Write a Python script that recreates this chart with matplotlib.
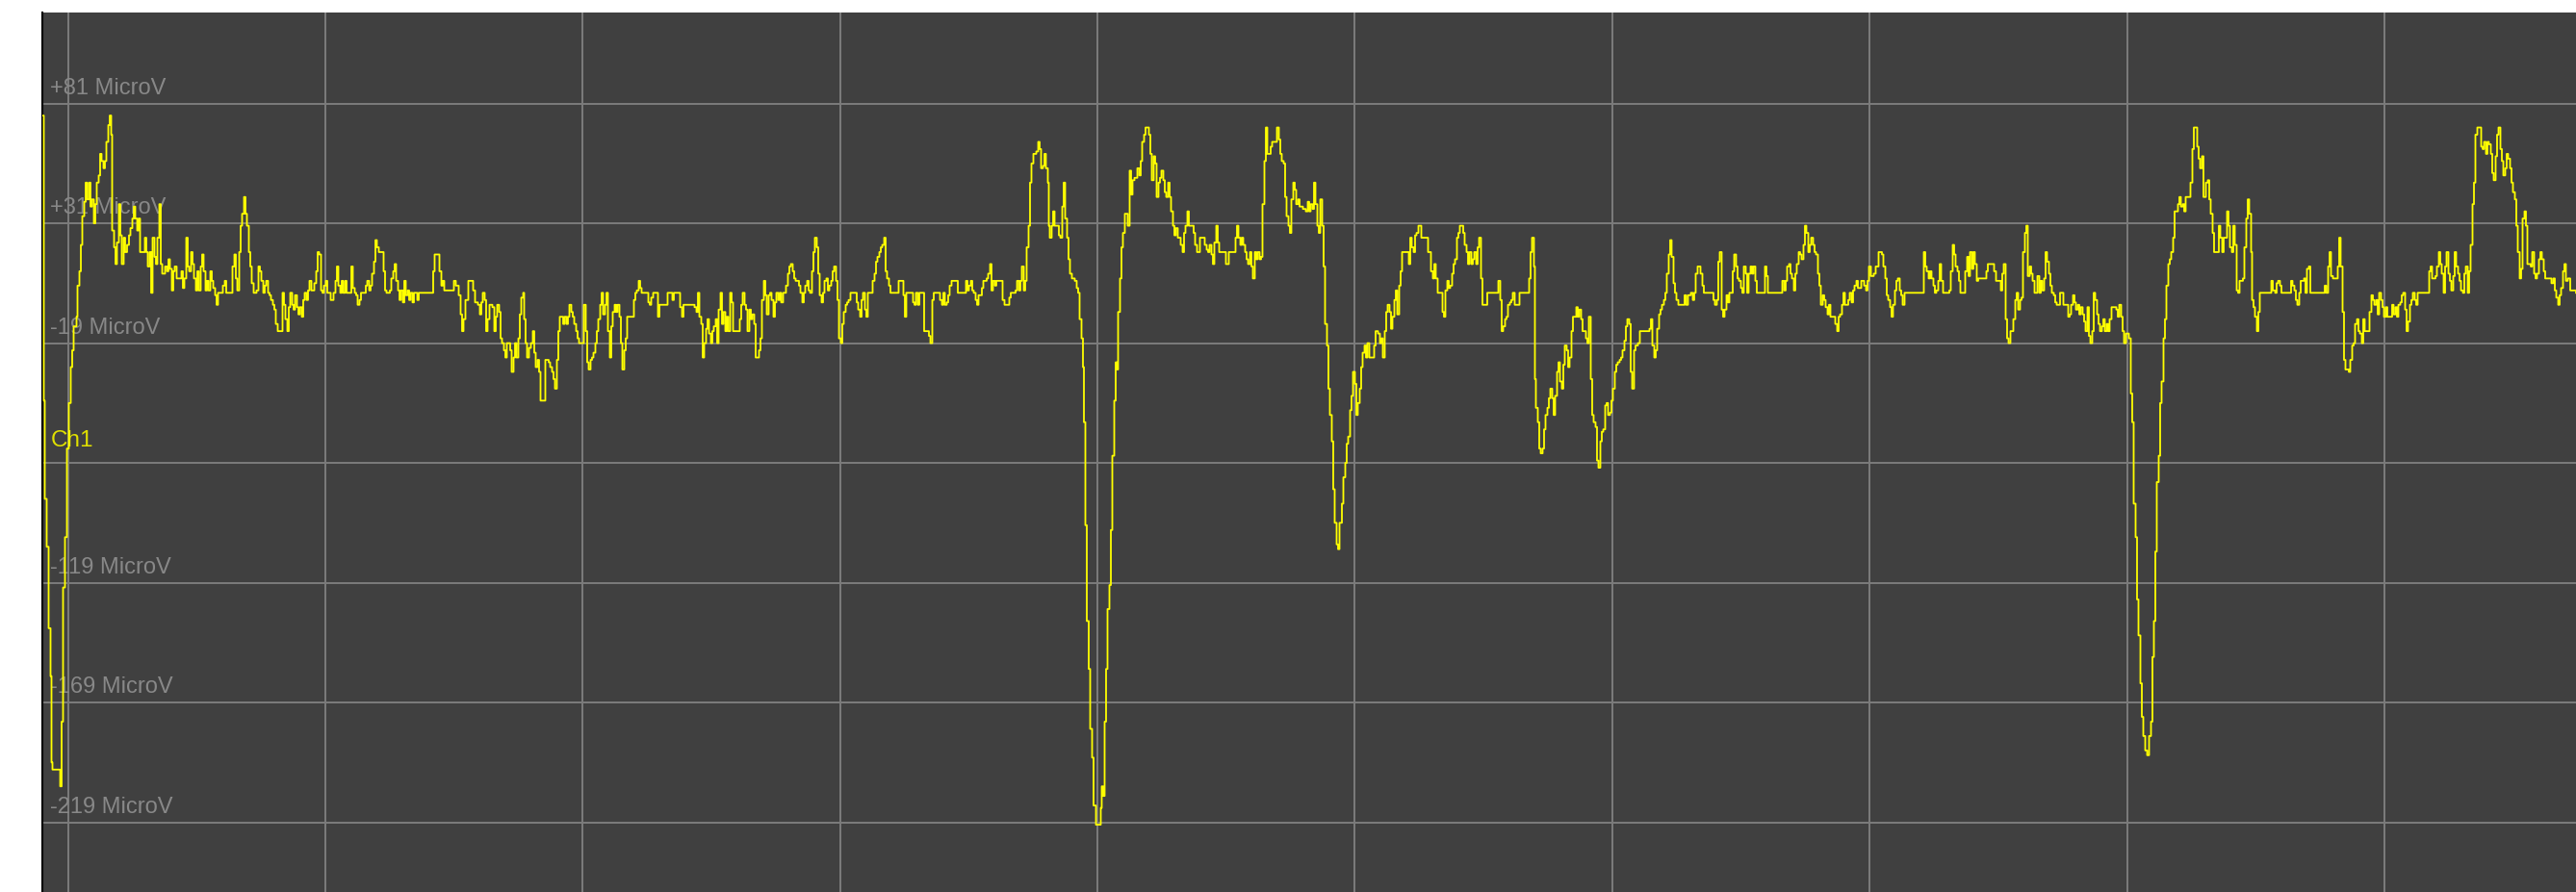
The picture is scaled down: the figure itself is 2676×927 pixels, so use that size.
import numpy as np
import matplotlib
matplotlib.use('Agg')
import matplotlib.pyplot as plt
from matplotlib import font_manager

# sampling rate of the recording (samples per second, one grid division = 1 s)
fs = 267.4

# (sample index, microvolts), segment by segment
seg_a = [(-26.5, 76), (-25, -43), (-24, -84), (-22, -104), (-20, -138), (-18, -158), (-17, -194), (-16, -197),
         (-8, -204), (-6.5, -177), (-5, -121), (-3, -100), (-1, -63), (1, -44), (3, -29), (4.5, -22), (6, -12),
         (9, -8), (10, 5), (12, 11), (13.5, 22), (15, 34), (17, 40), (18.5, 48), (20, 41), (22, 48), (23.5, 38),
         (25, 41), (27, 31), (28.5, 39), (30, 48), (32, 51), (33.5, 60), (35, 57), (37, 54), (38.5, 57), (40, 65),
         (42, 72), (43.5, 76), (45, 68), (46, 28), (48, 21), (49.5, 14), (51, 23), (53, 39), (54.5, 26), (56, 14),
         (58, 25), (59.5, 19), (61.5, 22), (63.5, 26), (65, 29), (67, 33), (68.5, 38), (70, 33), (72, 28),
         (73.5, 33), (75, 19), (80, 25), (81.5, 19), (83, 13), (85, 19), (86.5, 2), (88, 25), (90, 17),
         (91.5, 14), (93, 25), (95, 39), (96.5, 14), (98, 10), (101, 13), (103, 11), (104.5, 16), (106, 12),
         (108, 3), (109.5, 11), (111, 13), (113, 8), (118, 11), (119.5, 4), (121, 8), (123, 25), (124.5, 13),
         (126, 11), (128, 19), (129.5, 14), (131, 8), (133, 3), (134.5, 11), (136, 3), (138, 13), (139.5, 18),
         (141, 11), (143, 3), (144.5, 7), (146, 3), (148, 11), (149.5, 7), (151, 4), (153, 1), (154.5, -3),
         (156, 2), (161, 5), (163, 7), (164.5, 2), (171, 13), (173, 18), (174.5, 8), (176, 3), (178, 19),
         (179.5, 30), (181, 35), (183, 42), (184.5, 35), (186, 30), (188, 19), (189.5, 13), (191, 6), (193, 2),
         (196, 3), (198, 13), (199.5, 11), (201, 7), (203, 2), (204.5, 5), (206, 7), (208, 2), (209.5, 1),
         (211, -1), (213, -3), (214.5, -5), (216, -11), (218, -14), (223, 2), (224.5, -3), (226, -9), (228, -14),
         (229.5, -4), (231, 2), (233, -3), (234.5, -5), (236, 1), (238, -4), (239.5, -7), (241, -4), (243, -8),
         (244.5, -1), (246, 2), (248, -1), (249.5, 3), (251, 7), (253, 3), (256, 6), (258, 11), (259.5, 19),
         (261, 18), (263, 3), (264.5, 2), (266, 5), (268, 7), (269.5, 2), (273, -1), (276, 2), (278, 7),
         (279.5, 13), (281, 5), (283, 2), (284.5, 7), (286, 2), (288, 7), (289.5, 2), (294.5, 13), (296, 4),
         (298, 2), (299.5, 1), (301, -3), (303, -1), (304.5, 2), (309.5, 5), (311, 7), (313, 3), (314.5, 5),
         (316, 10), (318, 15), (319.5, 24), (321, 21), (323, 19), (328, 11), (329.5, 3), (331, 2), (334.5, 3),
         (336, 8), (338, 11), (339.5, 14), (341, 7), (343, 3), (344.5, -1), (346, 3), (348, -2), (349.5, 7),
         (351, 1), (353, 3), (354.5, -1), (356, 2), (358, -2), (359.5, 2), (363, -1), (364.5, 2), (379.5, 11),
         (381, 18), (386, 11), (388, 5), (389.5, 7), (391, 3), (401, 7), (403, 5), (406, 1), (408, -7),
         (409.5, -14), (411, -9), (413, -1), (416, 7)]

seg_b = [(419.5, 7), (421, 3), (423, -2), (426, -3), (428, -7), (429.5, -2), (431, 2), (433, -1), (434.5, -14),
         (436, -9), (438, -3), (441, -4), (443, -14), (444.5, -8), (446, -3), (448, -6), (449.5, -17), (451, -19),
         (453, -22), (454.5, -25), (456, -19), (459.5, -22), (461, -31), (463, -25), (464.5, -19), (466, -25),
         (468, -17), (469.5, -7), (471, 0), (473, 2), (474, -9), (475.5, -19), (477, -25), (479, -21), (481, -19),
         (483, -14), (484.5, -23), (486, -29), (488, -26), (489.5, -31), (491, -43), (496, -26), (499.5, -27),
         (501, -29), (503, -31), (504.5, -34), (506, -38), (508, -26), (509.5, -14), (511, -8), (514.5, -11),
         (516, -8), (518, -11), (519.5, -8), (521, -3), (523, -6), (524.5, -8), (526, -11), (528, -14),
         (529.5, -17), (531, -19), (536, -3), (538, -14), (539.5, -27), (541, -30), (543, -26), (544.5, -25),
         (546, -23), (548, -19), (549.5, -14), (551, -9), (553, -3), (554.5, 2), (556, -7), (558, -3), (559.5, 2),
         (561, -14), (563, -25), (564.5, -12), (566, -6), (568, -3), (569.5, -6), (571, -3), (573, -8),
         (574.5, -19), (576, -30), (578, -22), (579.5, -17), (581, -8), (588, -1), (589.5, 2), (591, 3), (593, 7),
         (594.5, 4), (596, 2), (603, -2), (604.5, -3), (606, 0), (608, 2), (613, -8), (614.5, -3), (623, 2),
         (628, -1), (629.5, 2), (636, -4), (638, -8), (639.5, -3), (651, -4), (653, -6), (654.5, 2), (656, -8),
         (658, -11), (659.5, -25), (661, -19), (663, -13), (664.5, -9), (666, -15), (668, -19), (669.5, -14),
         (671, -12), (673, -9), (674.5, -19), (676, -5), (678, 2), (679.5, -11), (681, -6), (683, -14),
         (684.5, -8), (686, -14), (688, 2), (689.5, -2), (691, -14), (698, -9), (699.5, -3), (701, 2), (703, -3),
         (704.5, -5), (706, -14), (708, -5), (709.5, -9), (711, -7), (713, -11), (714.5, -25), (718, -22),
         (719.5, -17), (721, -1), (723, 7), (724.5, 1), (726, -7), (728, 1), (729.5, 2), (731, -1), (733, -8),
         (734.5, -2), (736, 2), (738, -1), (739.5, 2), (741, -2), (743, 2), (746, 5), (748, 10), (749.5, 13),
         (751, 14), (753, 11), (754.5, 8), (756, 7), (759.5, 5), (761, 2), (763, -2), (764.5, 2), (766, 5),
         (768, 7), (769.5, 3), (771, 2), (773, 11), (774.5, 19), (776, 25), (778, 21), (779.5, 10), (781, 1),
         (783, -2), (784.5, 2), (786, 7), (788, 8), (789.5, 3), (791, 5), (793, 7), (794.5, 11), (796, 13),
         (798, 7), (799.5, -1), (801, -17), (803, -19), (804.5, -11), (806, -6), (808, -3), (809.5, -2),
         (811, -1), (813, 2), (819.5, -2), (821, -5), (823, -8), (824.5, -1), (826, 2), (828, -5), (829.5, -8),
         (831, 2), (836, 7), (838, 10), (839.5, 15), (841, 17), (843, 19), (844.5, 21), (846, 22), (848, 25),
         (849.5, 11), (851, 8), (853, 5), (854.5, 2), (863, 7), (868, 1), (869.5, -8)]

seg_c = [(871, 2), (878, -2), (879.5, -3), (881, 2), (883, -3), (884.5, 2), (889.5, -14), (894.5, -16),
         (896, -19), (898, -1), (899.5, 2), (906, -1), (908, -3), (909.5, 2), (911, -3), (913, -2), (914.5, 1),
         (916, 5), (918, 7), (924.5, 2), (933, 7), (934.5, 3), (936, 5), (938, 7), (939.5, 3), (941, 2),
         (943, -1), (944.5, -3), (946, 1), (949.5, 4), (951, 7), (954.5, 8), (956, 10), (958, 14), (959.5, 3),
         (961, 7), (963, 5), (964.5, 7), (971, -1), (973, -3), (978, 0), (979.5, 2), (984.5, 3), (986, 7),
         (988, 3), (989.5, 7), (991, 13), (993, 3), (994.5, 7), (996, 21), (998, 30), (999.5, 48), (1001, 56),
         (1003, 60), (1006, 61), (1008, 65), (1009.5, 62), (1011, 54), (1013, 55), (1014.5, 60), (1016, 54),
         (1018, 48), (1019, 30), (1020, 25), (1022, 30), (1023.5, 36), (1025, 30), (1029.5, 26), (1031, 25),
         (1033, 38), (1034.5, 48), (1036, 33), (1038, 25), (1039.5, 16), (1041, 10), (1043, 8), (1046, 7),
         (1048, 4), (1049.5, 2), (1051, -9), (1053, -17), (1054.5, -29), (1055.5, -52), (1057, -95),
         (1058.5, -135), (1060.5, -155), (1062, -180), (1064, -192), (1065.5, -212), (1068, -220), (1073, -213),
         (1074, -204), (1075.5, -208), (1077, -177), (1078.5, -155), (1080, -130), (1082, -120), (1083.5, -97),
         (1085, -66), (1087, -43), (1088.5, -27), (1090, -30), (1091, -6), (1093, 8), (1094.5, 21), (1096, 27),
         (1098, 35), (1101, 30), (1103, 53), (1104.5, 43), (1106, 49), (1108, 50), (1111, 54), (1113, 51),
         (1114.5, 57), (1116, 65), (1118, 68), (1119.5, 71), (1123, 68), (1124.5, 60), (1126, 49), (1128, 59),
         (1129.5, 56), (1131, 42), (1133, 48), (1134.5, 50), (1136, 53), (1138, 49), (1139.5, 44), (1141, 42),
         (1143, 48), (1144.5, 42), (1146, 36), (1148, 30), (1149.5, 26), (1151, 29), (1153, 25), (1156, 22),
         (1158, 19), (1159.5, 27), (1161, 30), (1163, 36), (1164.5, 30), (1169.5, 27), (1171, 22), (1173, 19),
         (1176, 25), (1181, 22), (1183, 20), (1184.5, 19), (1186, 22), (1188, 18), (1189.5, 14), (1191, 23),
         (1193, 30), (1194.5, 23), (1196, 19), (1203, 14), (1206, 19), (1213, 25), (1214.5, 30), (1216, 25),
         (1218, 22), (1219.5, 25), (1221, 22), (1223, 19), (1224.5, 16), (1226, 14), (1228, 19), (1229.5, 13),
         (1231, 8), (1233, 19), (1234.5, 16), (1236, 19), (1238, 16), (1239.5, 17), (1241, 39), (1243, 57),
         (1244.5, 71), (1246, 60), (1249.5, 63), (1251, 65), (1256, 71), (1258, 66), (1259.5, 60), (1261, 57),
         (1263, 56), (1264.5, 42), (1266, 34), (1268, 30), (1269.5, 27), (1271, 41), (1273, 48), (1274.5, 45),
         (1276, 39), (1278, 41), (1279.5, 38), (1283, 37), (1286, 36), (1288, 40), (1289.5, 36), (1291, 39),
         (1293, 37), (1294.5, 48), (1296, 39), (1298, 30), (1299.5, 27), (1301, 41), (1303, 30), (1304.5, 13),
         (1306, -11), (1308, -20), (1309.5, -38), (1311, -49), (1313, -60), (1314.5, -80), (1316, -94),
         (1318, -103), (1319.5, -105)]

seg_d = [(1321, -94), (1323.5, -86), (1325, -75), (1327, -69), (1328.5, -61), (1330, -58), (1332, -47),
         (1333.5, -41), (1335, -31), (1337, -36), (1338.5, -49), (1340, -44), (1342, -38), (1343.5, -29),
         (1345, -23), (1347, -20), (1348.5, -25), (1350, -19), (1352, -25), (1357, -20), (1358.5, -14),
         (1361, -15), (1363, -19), (1364.5, -17), (1366, -25), (1368, -14), (1369.5, -6), (1371, -3), (1373, -6),
         (1374.5, -13), (1376, -8), (1378, -1), (1379.5, 3), (1381, -7), (1383, 5), (1384.5, 11), (1386, 19),
         (1393, 14), (1394.5, 25), (1396, 21), (1398, 19), (1399.5, 26), (1401, 27), (1403, 30), (1406, 25),
         (1413, 19), (1416, 11), (1418, 8), (1419.5, 14), (1421, 8), (1423, 2), (1428, -6), (1429.5, -8),
         (1431, 3), (1433, 7), (1434.5, 4), (1436, 5), (1438, 10), (1439.5, 14), (1441, 16), (1443, 25),
         (1444.5, 27), (1446, 30), (1449.5, 27), (1451, 22), (1453, 19), (1454.5, 14), (1456, 19), (1458, 14),
         (1459.5, 16), (1461, 19), (1463, 14), (1464.5, 21), (1466, 25), (1468, 8), (1469.5, -3), (1474.5, 2),
         (1486, 7), (1488, -1), (1489.5, -14), (1491, -12), (1493, -9), (1494.5, -8), (1496, -3), (1498, -2),
         (1499.5, -1), (1501, 2), (1503, -3), (1508, 2), (1518, 8), (1519.5, 19), (1521, 25), (1523, 13),
         (1524, -34), (1525, -46), (1527, -52), (1528.5, -63), (1530, -65), (1532, -63), (1533.5, -55),
         (1535, -49), (1537, -46), (1538.5, -42), (1540, -38), (1542, -42), (1543.5, -49), (1545, -41),
         (1547, -31), (1548.5, -27), (1550, -35), (1552, -38), (1553.5, -28), (1555, -20), (1557, -22),
         (1558.5, -29), (1560, -25), (1562, -14), (1563.5, -8), (1567, -4), (1568.5, -8), (1570, -5), (1572, -9),
         (1573.5, -14), (1577, -17), (1578.5, -19), (1580, -8), (1582, -34), (1583.5, -49), (1585, -52),
         (1587, -54), (1588.5, -68), (1590, -71), (1592, -60), (1593.5, -56), (1595, -55), (1597, -45),
         (1598.5, -44), (1600, -49), (1602, -48), (1603.5, -43), (1605, -38), (1607, -31), (1608.5, -28),
         (1610, -27), (1612, -26), (1613.5, -25), (1615, -22), (1617, -18), (1618.5, -12), (1620, -9),
         (1622, -11), (1623.5, -31), (1625, -38), (1627, -22), (1628.5, -20), (1631, -19), (1633, -14),
         (1643, -13), (1644.5, -9), (1646, -20), (1648, -25), (1649.5, -22), (1651, -13), (1653, -7),
         (1654.5, -5), (1656, -3), (1658, -1), (1659.5, 2), (1661, 10), (1663, 18), (1664.5, 24), (1666, 17),
         (1668, 6), (1669.5, 2), (1671, -1), (1673, -3), (1679.5, 1), (1681, -3), (1683, 1), (1686, 2),
         (1688, -1), (1689.5, 2), (1691, 10), (1693, 13), (1696, 10), (1698, 5), (1699.5, 2), (1709.5, -1),
         (1711, -3), (1713, -1), (1714.5, 15), (1716, 19), (1718, -5), (1719.5, -8), (1721, -5), (1723, 1),
         (1724.5, -2), (1726, 2), (1729.5, 11), (1731, 18), (1733, 13), (1734.5, 8), (1736, 7), (1738, 4),
         (1739.5, 2), (1741, 13), (1743, 10), (1744.5, 2), (1746, 10), (1748, 13), (1749.5, 10), (1751, 13),
         (1753, 7), (1754.5, 2), (1763, 13), (1764.5, 9), (1766, 2)]

seg_e = [(1781, 7), (1783, 3), (1784.5, 7), (1786, 13), (1788, 14), (1789.5, 10), (1791, 8), (1793, 3),
         (1794.5, 10), (1796, 14), (1798, 19), (1799.5, 18), (1801, 16), (1803, 22), (1804.5, 30), (1806, 27),
         (1808, 19), (1809.5, 22), (1811, 25), (1813, 22), (1814.5, 19), (1816, 18), (1818, 10), (1819.5, 5),
         (1821, -3), (1823, 1), (1824.5, -1), (1826, -4), (1828, -7), (1829.5, -3), (1831, -8), (1836, -11),
         (1838, -14), (1839.5, -8), (1841, -7), (1843, -3), (1844.5, 2), (1846, -3), (1849.5, -1), (1851, 2),
         (1853, -2), (1854.5, 3), (1856, 5), (1858, 7), (1859.5, 4), (1863, 7), (1866, 5), (1868, 3),
         (1869.5, 7), (1871, 13), (1873, 9), (1876, 10), (1878, 13), (1881, 19), (1884.5, 18), (1886, 13),
         (1888, 8), (1889.5, 1), (1891, -1), (1893, -4), (1894.5, -8), (1896, -3), (1898, 3), (1899.5, 7),
         (1901, 8), (1903, 3), (1904.5, 1), (1906, -3), (1908, 2), (1928, 19), (1929.5, 13), (1931, 11),
         (1933, 8), (1934.5, 11), (1936, 8), (1938, 5), (1939.5, 2), (1941, 3), (1943, 7), (1944.5, 14),
         (1946, 7), (1948, 2), (1954.5, 3), (1956, 11), (1958, 22), (1959.5, 18), (1961, 13), (1963, 11),
         (1964.5, 7), (1966, 2), (1971, 11), (1973, 17), (1974.5, 9), (1976, 19), (1978, 12), (1979.5, 19),
         (1981, 14), (1983, 7), (1984.5, 8), (1993, 11), (1994.5, 14), (2001, 11), (2003, 7), (2008, 3),
         (2009.5, 10), (2011, 14), (2013, -9), (2014.5, -17), (2016, -19), (2018, -14), (2021, -9), (2023, -1),
         (2024.5, 2), (2026, -5), (2028, -1), (2029.5, 0), (2031, 19), (2033, 27), (2034.5, 30), (2036, 9),
         (2038, 13), (2039.5, 10), (2041, 7), (2043, 2), (2046, 9), (2048, 2), (2049.5, 7), (2051, 3), (2053, 8),
         (2054.5, 19), (2056, 15), (2058, 10), (2059.5, 5), (2061, 2), (2063, 1), (2064.5, -2), (2066, -3),
         (2069.5, 2), (2073, -3), (2078, -8), (2079.5, -7), (2081, -3), (2083, 1), (2084.5, -2), (2086, -5),
         (2088, -3), (2089.5, -7), (2091, -4), (2093, -7), (2094.5, -10), (2096, -14), (2098, -4), (2099.5, -16),
         (2101, -19), (2103, -14), (2104.5, 2), (2106, -1), (2108, -7), (2109.5, -11), (2111, -14), (2113, -12),
         (2114.5, -9), (2116, -14), (2118, -11), (2119.5, -14), (2121, -9), (2123, -4), (2128, -5), (2129.5, -8),
         (2131, -3), (2133, -8), (2134.5, -14), (2136, -19), (2138, -15), (2141, -17), (2143, -40),
         (2144.5, -52), (2146, -86), (2148, -100), (2149.5, -126), (2151, -141), (2153, -161), (2154.5, -175),
         (2156, -183), (2158, -189), (2160, -191), (2162, -183), (2164, -177), (2165.5, -150), (2167, -135),
         (2168.5, -106), (2170, -77), (2172, -66), (2173.5, -44), (2175, -35), (2177, -17), (2178.5, -9),
         (2180, 5), (2182, 14), (2183.5, 16), (2185, 19), (2187, 25), (2188.5, 36), (2192, 39), (2193.5, 42),
         (2195, 38), (2197, 39), (2198.5, 36), (2200, 42), (2205, 48), (2207, 62), (2208.5, 71), (2212, 63),
         (2213.5, 58), (2215, 54), (2217, 59), (2218.5, 42)]

seg_f = [(2221, 48), (2223, 49), (2224.5, 41), (2226, 35), (2228, 27), (2229.5, 19), (2234.5, 30), (2236, 25),
         (2238, 19), (2239.5, 25), (2243, 36), (2244.5, 30), (2246, 21), (2248, 19), (2249.5, 30), (2251, 22),
         (2253, 3), (2254.5, 2), (2256, 7), (2259.5, 8), (2261, 21), (2263, 33), (2264.5, 41), (2266, 35),
         (2268, 19), (2269, -1), (2270.5, -4), (2272, -8), (2274, -14), (2275.5, -6), (2277, 2), (2289, 7),
         (2290.5, 3), (2293, 2), (2294.5, 6), (2296, 7), (2298, 5), (2299.5, 2), (2309.5, 7), (2311, 5),
         (2313, 3), (2314.5, -1), (2316, -3), (2318, 2), (2319.5, 7), (2323, 8), (2324.5, 2), (2326, 12),
         (2328, 13), (2329.5, 2), (2344.5, 5), (2346, 2), (2348, 13), (2349.5, 19), (2351, 9), (2353, 8),
         (2358, 13), (2359.5, 25), (2361, 13), (2363, -6), (2364.5, -26), (2366, -30), (2369.5, -31),
         (2371, -26), (2373, -20), (2374.5, -19), (2376, -11), (2378, -9), (2379.5, -14), (2381, -15),
         (2383, -19), (2384.5, -9), (2386, -14), (2391, -6), (2393, 1), (2394.5, -1), (2396, -3), (2398, -1),
         (2399.5, -7), (2401, 2), (2403, -1), (2404.5, -4), (2406, -8), (2408, -4), (2409.5, -8), (2414.5, -3),
         (2416, -7), (2418, -4), (2419.5, -8), (2421, -3), (2423, -2), (2424.5, 1), (2426, 2), (2428, -5),
         (2429.5, -14), (2431, -10), (2433, -3), (2434.5, -1), (2436, 2), (2438, -1), (2439.5, -3), (2441, 2),
         (2453, 11), (2454.5, 13), (2456, 8), (2459.5, 9), (2461, 13), (2463, 19), (2464.5, 14), (2466, 10),
         (2468, 2), (2469.5, 13), (2471, 19), (2473, 10), (2474.5, 7), (2476, 3), (2478, 9), (2479.5, 19),
         (2481, 13), (2483, 10), (2484.5, 7), (2486, 3), (2488, 2), (2489.5, 10), (2491, 13), (2493, 2),
         (2494.5, 11), (2496, 22), (2498, 39), (2499.5, 48), (2501, 68), (2503, 71), (2507, 63), (2508.5, 62),
         (2510, 65), (2512, 60), (2513.5, 65), (2515, 64), (2517, 60), (2518.5, 52), (2520, 49), (2522, 59),
         (2523.5, 68), (2525, 71), (2527, 62), (2528.5, 57), (2530, 51), (2532, 54), (2533.5, 60), (2535, 58),
         (2537, 54), (2538.5, 48), (2540, 44), (2542, 41), (2543.5, 30), (2545, 19), (2547, 8), (2548.5, 12),
         (2550, 33), (2552, 36), (2553.5, 30), (2555, 14), (2558.5, 13), (2560, 19), (2562, 10), (2563.5, 8),
         (2565, 10), (2567, 16), (2568.5, 19), (2570, 16), (2572, 11), (2573.5, 8), (2580, 6), (2582, 8),
         (2583.5, 3), (2585, 0), (2587, -3), (2588.5, 1), (2590, 4), (2592, 11), (2593.5, 14), (2595, 7),
         (2597, 8), (2599.5, 3), (2605.5, 2)]

# scale labels (microvolts)
scale_levels = [81, 31, -19, -119, -169, -219]
scale_labels = ['+81 MicroV', '+31 MicroV', '-19 MicroV', '-119 MicroV', '-169 MicroV', '-219 MicroV']
channel_name = 'Ch1'
channel_level = -69

pts = np.array(seg_a + seg_b + seg_c + seg_d + seg_e + seg_f, dtype=float)
t = pts[:, 0] / fs
uv = pts[:, 1]

names = {f.name for f in font_manager.fontManager.ttflist}
lab_font = 'Liberation Sans Narrow' if 'Liberation Sans Narrow' in names else 'Liberation Sans'
lab_size = 18.5 if lab_font == 'Liberation Sans Narrow' else 17

W, H = 2676, 927
fig = plt.figure(figsize=(W / 100, H / 100), dpi=100)
ax = fig.add_axes([44 / W, 0, (W - 44) / W, (H - 13) / H])
ax.set_facecolor('#404040')

ax.plot(t, uv, drawstyle='steps-post', color='#ffff00', lw=1.3, zorder=3)

ax.set_xlim(-26.5 / fs, 2605.5 / fs)
ax.set_ylim(-248.1, 119.0)
ax.set_xticks(np.arange(0, 10))
ax.set_yticks(scale_levels + [channel_level])
ax.grid(True, color='#7c7c7c', lw=1.4)
ax.set_axisbelow(True)
ax.tick_params(length=0, labelbottom=False, labelleft=False)
for side in ['top', 'right', 'bottom']:
    ax.spines[side].set_visible(False)
ax.spines['left'].set_color('black')
ax.spines['left'].set_linewidth(1.5)

for lv, lab in zip(scale_levels, scale_labels):
    ax.annotate(lab, xy=(0, lv), xycoords=('axes fraction', 'data'),
                xytext=(8, 10), textcoords='offset pixels', va='baseline', ha='left',
                color='#888888', fontsize=lab_size, family=[lab_font, 'DejaVu Sans'], zorder=2)
ax.annotate(channel_name, xy=(0, channel_level), xycoords=('axes fraction', 'data'),
            xytext=(9, 17), textcoords='offset pixels', va='baseline', ha='left',
            color='#e0e000', fontsize=lab_size + 0.5, family=[lab_font, 'DejaVu Sans'], zorder=2)

fig.savefig('out.png', dpi=100, facecolor='white')
